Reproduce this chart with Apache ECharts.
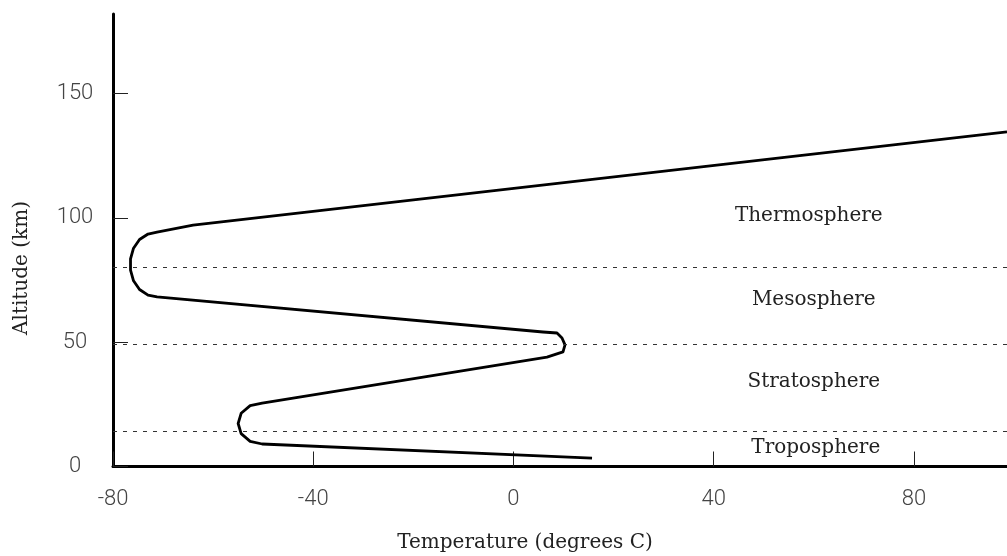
<!DOCTYPE html>
<html>
<head>
<meta charset="utf-8">
<script src="https://cdn.jsdelivr.net/npm/echarts@6/dist/echarts.min.js"></script>
<style>
  html, body { margin: 0; padding: 0; background: #fff; }
  #main { width: 1007px; height: 556px; }
</style>
</head>
<body>
<div id="main"></div>
<script>
// temperature profile: [degrees C, km]
var profile = [
  [15.7, 3.4],
  [-50.2, 9.05], [-52.6, 10.1], [-54.4, 13.2], [-55.0, 17.3], [-54.4, 21.4], [-52.6, 24.5], [-50.2, 25.5],
  [6.7, 44.0], [9.9, 46.1], [10.3, 48.9], [9.7, 51.7], [8.7, 53.7], [5.9, 54.1],
  [-71.2, 68.2], [-73.0, 68.9], [-74.7, 71.2], [-75.9, 74.7], [-76.5, 79.0],
  [-76.5, 83.5], [-75.9, 87.8], [-74.7, 91.3], [-73.0, 93.5], [-71.2, 94.3],
  [-64.0, 97.1], [98.6, 134.6]
];
// layer boundaries (dashed lines), km
var boundaries = [14, 49, 80];
// layer names and where they sit [degrees C, km]
var layerNames = ['Thermosphere', 'Mesosphere', 'Stratosphere', 'Troposphere'];
var layerPos = [[59, 101], [60, 67], [60, 34], [60.4, 7.4]];
var xTicks = [-80, -40, 0, 40, 80];
var yTicks = [0, 50, 100, 150];

var myChart = echarts.init(document.getElementById('main'));

var labelData = [];
for (var i = 0; i < layerNames.length; i++) {
  labelData.push({ name: layerNames[i], value: layerPos[i] });
}
var lines = [];
for (var j = 0; j < boundaries.length; j++) {
  lines.push({ yAxis: boundaries[j] });
}

var tickFont = { fontFamily: 'Roboto', fontWeight: 300, fontSize: 22, color: '#444' };
var serifFont = '20px "DejaVu Serif"';

var option = {
  animation: false,
  grid: { left: 113, right: 0, top: 14, bottom: 89.5 },
  xAxis: {
    type: 'value',
    min: -80,
    max: 98.6,
    splitLine: { show: false },
    axisLine: { onZero: false, lineStyle: { color: '#000', width: 3 } },
    axisTick: { inside: true, length: 15, customValues: xTicks, lineStyle: { color: '#222', width: 1 } },
    axisLabel: Object.assign({ margin: 22, customValues: xTicks }, tickFont)
  },
  yAxis: {
    type: 'value',
    min: 0,
    max: 182,
    splitLine: { show: false },
    axisLine: { onZero: false, lineStyle: { color: '#000', width: 3 } },
    axisTick: { inside: true, length: 15, customValues: yTicks, lineStyle: { color: '#222', width: 1 } },
    axisLabel: Object.assign({ margin: 38, align: 'center', customValues: yTicks }, tickFont)
  },
  series: [
    {
      type: 'line',
      data: profile,
      symbol: 'none',
      smooth: false,
      lineStyle: { color: '#000', width: 2.8, join: 'round' },
      markLine: {
        silent: true,
        symbol: 'none',
        label: { show: false },
        lineStyle: { color: '#333', width: 1, type: [4, 6] },
        data: lines
      },
      z: 3
    },
    {
      type: 'scatter',
      data: labelData,
      symbolSize: 0,
      itemStyle: { opacity: 1 },
      label: {
        show: true,
        position: 'inside',
        formatter: '{b}',
        fontFamily: 'DejaVu Serif',
        fontSize: 20,
        color: '#222'
      }
    }
  ],
  graphic: {
    elements: [
      {
        type: 'text',
        x: 525,
        y: 543,
        style: { text: 'Temperature (degrees C)', font: serifFont, fill: '#222', align: 'center', verticalAlign: 'middle' }
      },
      {
        type: 'text',
        x: 22,
        y: 268,
        rotation: Math.PI / 2,
        style: { text: 'Altitude (km)', font: serifFont, fill: '#222', align: 'center', verticalAlign: 'middle' }
      }
    ]
  }
};
myChart.setOption(option);
</script>
</body>
</html>
